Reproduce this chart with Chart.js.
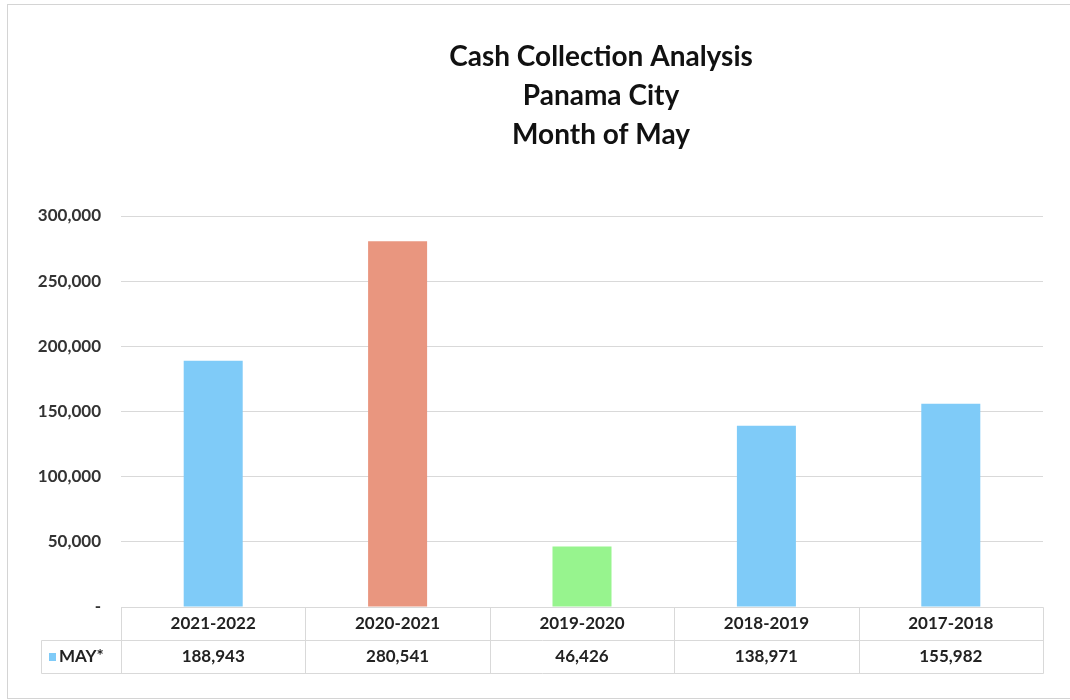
<!DOCTYPE html>
<html>
<head>
<meta charset="utf-8">
<script src="https://cdn.jsdelivr.net/npm/chart.js@4/dist/chart.umd.min.js"></script>
<style>
  html, body { margin: 0; padding: 0; background: #ffffff; }
  #wrap { width: 1070px; height: 700px; position: relative; }
</style>
</head>
<body>
<div id="wrap"><canvas id="c" width="1070" height="700"></canvas></div>
<script>
const titleLines = ["Cash Collection Analysis", "Panama City", "Month of May"];
const categories = ["2021-2022", "2020-2021", "2019-2020", "2018-2019", "2017-2018"];
const seriesName = "MAY*";
const mayValues = [188943, 280541, 46426, 138971, 155982];
const barColors = ["#7fcbf8", "#e9967f", "#97f48e", "#7fcbf8", "#7fcbf8"];
const legendColor = "#7fcbf8";
const yTickValues = [0, 50000, 100000, 150000, 200000, 250000, 300000];

const FONT = "Lato, 'Open Sans', sans-serif";
const fmt = v => v === 0 ? "-" : v.toLocaleString("en-US");

const tablePlugin = {
  id: "dataTable",
  beforeDraw(chart) {
    const ctx = chart.ctx;
    ctx.save();
    ctx.fillStyle = "#ffffff";
    ctx.fillRect(0, 0, chart.width, chart.height);
    ctx.strokeStyle = "#d4d4d4";
    ctx.lineWidth = 1;
    ctx.strokeRect(7.5, 4.5, chart.width - 7, chart.height - 6);
    ctx.restore();
  },
  afterDraw(chart) {
    const ctx = chart.ctx;
    const area = chart.chartArea;
    const x = chart.scales.x;
    const n = categories.length;
    const colW = (area.right - area.left) / n;
    const rowH = 33;
    const top = area.bottom;
    ctx.save();
    // title
    ctx.fillStyle = "#111111";
    ctx.font = "bold 28px " + FONT;
    ctx.textAlign = "center";
    ctx.textBaseline = "middle";
    titleLines.forEach((t, i) => ctx.fillText(t, 601, 57 + i * 39));

    // table lines
    ctx.strokeStyle = "#d9d9d9";
    ctx.lineWidth = 1;
    const L = Math.round(area.left) + 0.5;
    const R = Math.round(area.right) + 0.5;
    const y0 = Math.round(top) + 0.5;
    const y1 = y0 + rowH;
    const y2 = y1 + rowH;
    const legendLeft = 41.5;
    ctx.beginPath();
    ctx.moveTo(L, y0); ctx.lineTo(R, y0);
    ctx.moveTo(legendLeft, y1); ctx.lineTo(R, y1);
    ctx.moveTo(legendLeft, y2); ctx.lineTo(R, y2);
    ctx.moveTo(legendLeft, y1); ctx.lineTo(legendLeft, y2);
    for (let i = 0; i <= n; i++) {
      const xx = Math.round(area.left + i * colW) + 0.5;
      ctx.moveTo(xx, y0); ctx.lineTo(xx, y2);
    }
    ctx.stroke();

    // header and values
    ctx.fillStyle = "#222222";
    ctx.font = "bold 17px " + FONT;
    categories.forEach((c, i) => {
      const cx = x.getPixelForValue(i);
      ctx.fillText(c, cx, y0 + rowH / 2);
      ctx.fillText(mayValues[i].toLocaleString("en-US"), cx, y1 + rowH / 2);
    });
    // legend key
    ctx.fillStyle = legendColor;
    ctx.fillRect(49, y1 + rowH / 2 - 4, 7, 8);
    ctx.fillStyle = "#222222";
    ctx.textAlign = "left";
    ctx.fillText(seriesName, 59, y1 + rowH / 2);
    ctx.restore();
  }
};

new Chart(document.getElementById("c"), {
  type: "bar",
  data: {
    labels: categories,
    datasets: [{
      label: seriesName,
      data: mayValues,
      backgroundColor: barColors,
      borderWidth: 0,
      categoryPercentage: 1.0,
      barPercentage: 0.32
    }]
  },
  options: {
    responsive: false,
    animation: false,
    devicePixelRatio: 1,
    layout: { padding: { top: 216, right: 27, bottom: 93, left: 0 } },
    plugins: {
      legend: { display: false },
      title: { display: false },
      tooltip: { enabled: false }
    },
    scales: {
      x: {
        display: false,
        grid: { display: false }
      },
      y: {
        min: 0,
        max: 300000,
        afterFit(scale) { scale.width = 121; },
        afterBuildTicks(scale) { scale.ticks = yTickValues.map(v => ({ value: v })); },
        border: { display: false },
        grid: { color: "#d9d9d9", drawTicks: false, lineWidth: 1 },
        ticks: {
          padding: 20,
          color: "#333333",
          font: { family: FONT, size: 17, weight: "bold" },
          callback: v => fmt(v)
        }
      }
    }
  },
  plugins: [tablePlugin]
});
</script>
</body>
</html>
